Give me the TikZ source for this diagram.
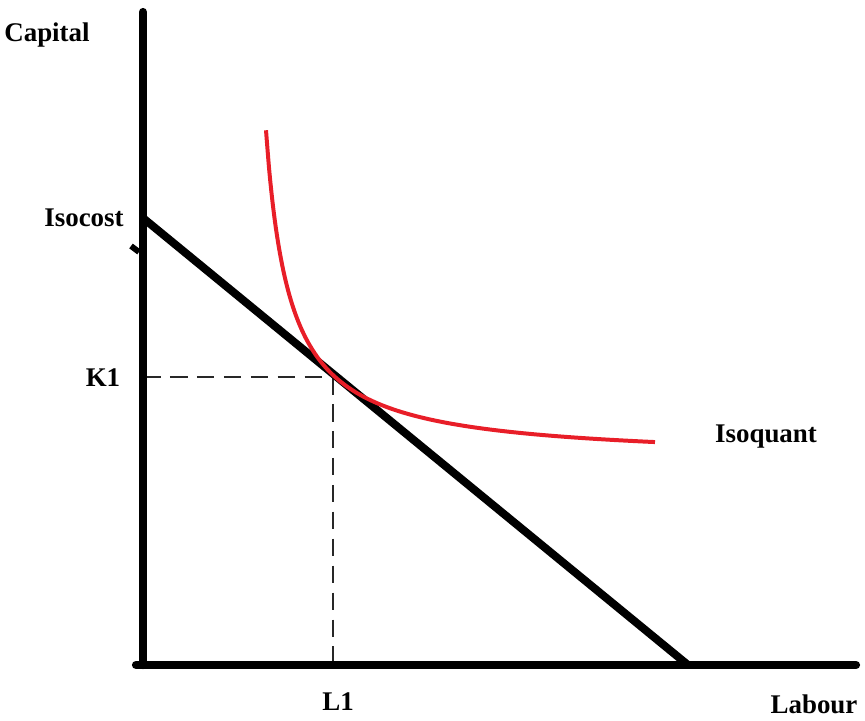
\documentclass[tikz,border=0pt]{standalone}
\usepackage{fontspec}
\setmainfont{Liberation Serif}
\definecolor{curvered}{RGB}{232,30,40}
\definecolor{dashgray}{RGB}{40,40,40}
\begin{document}
\begin{tikzpicture}[x=0.03cm,y=-0.03cm,
  axis/.style={line width=7pt,line cap=round},
  costline/.style={line width=6.8pt},
  guide/.style={line width=1.2pt,dashgray,dash pattern=on 15pt off 8pt},
  isoq/.style={line width=3.4pt,curvered},
  lbl/.style={font=\fontsize{23}{26}\selectfont\bfseries,inner sep=0pt}]
\useasboundingbox (0,0) rectangle (865,720);
\coordinate (O) at (143,665);
\coordinate (ytop) at (143,12);
\coordinate (xend) at (856,665);
\coordinate (cA) at (143,218);
\coordinate (cB) at (688,665);
\coordinate (T) at (333,377);
\coordinate (K) at (143,377);
\coordinate (L) at (333,665);
\draw[guide] (K) -- (T);
\draw[guide] (T) -- (L);
\draw[axis] (ytop) -- (O);
\draw[axis] (136,665) -- (xend);
\draw[costline] (cA) -- (cB);
\draw[line width=5pt] (131,246) -- (139,252);
\draw[isoq] plot[domain=266:655,samples=120,smooth] (\x,{460.9-7770/(\x-242.5)});
\node[lbl] (cap) at (47,35) {Capital};
\node[lbl] (isc) at (84,218) {Isocost};
\node[lbl] (k1) at (103,378) {K1};
\node[lbl] (l1) at (338,702) {L1};
\node[lbl] (lab) at (814,704) {Labour};
\node[lbl] (isq) at (766,437) {Isoquant};
\end{tikzpicture}
\end{document}
